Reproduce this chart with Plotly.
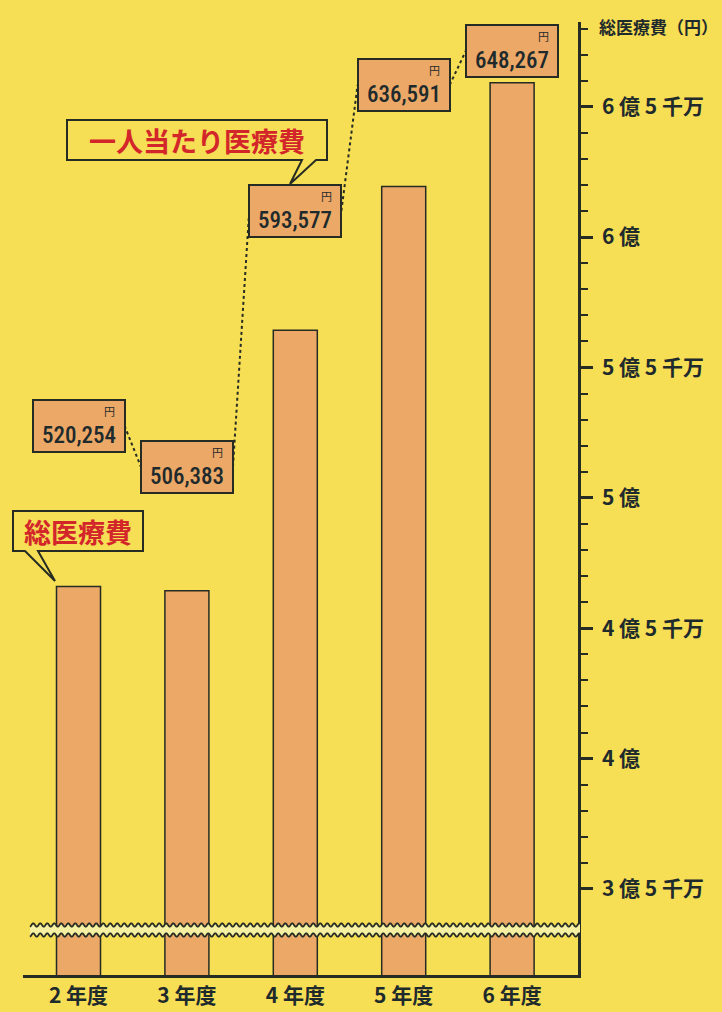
import numpy as np
import plotly.graph_objects as go

# data
years = ["2 年度", "3 年度", "4 年度", "5 年度", "6 年度"]
total_cost = [466_000_000, 464_400_000, 564_300_000, 619_400_000, 659_200_000]
per_capita = [520254, 506383, 593577, 636591, 648267]

major_vals = [350_000_000, 400_000_000, 450_000_000, 500_000_000,
              550_000_000, 600_000_000, 650_000_000]
major_text = ["3 億 5 千万", "4 億", "4 億 5 千万", "5 億",
              "5 億 5 千万", "6 億", "6 億 5 千万"]

BG = "#F6DE55"
BAR = "#EBA866"
BAND = "#F5F0A2"
INK = "#262C24"
RED = "#D3262B"
TXT = "#1E2A2C"
JP = "Noto Sans CJK JP"

W, H = 722, 1012
L, R, T, B = 23, 144, 22, 37
PW, PH = W - L - R, H - T - B


def paper(xp, yp):
    return (xp - L) / PW, (H - B - yp) / PH


def path_from(points, close=True):
    pts = [paper(x, y) for x, y in points]
    d = "M " + " L ".join(f"{x:.5f},{y:.5f}" for x, y in pts)
    return d + (" Z" if close else "")


idx = list(range(len(years)))
half_box = 0.425  # half width of value box in category units

fig = go.Figure()
fig.add_trace(go.Bar(
    x=idx, y=total_cost, width=0.406,
    marker=dict(color=BAR, line=dict(color=INK, width=1.5)),
    showlegend=False, hoverinfo="skip",
))

# dotted connectors between the per-capita boxes
cx, cy = [], []
for i in range(len(per_capita) - 1):
    cx += [i + half_box, i + 1 - half_box, None]
    cy += [per_capita[i], per_capita[i + 1], None]
fig.add_trace(go.Scatter(
    x=cx, y=cy, yaxis="y2", mode="lines",
    line=dict(color=INK, width=2, dash="dot"),
    showlegend=False, hoverinfo="skip",
))

annotations = []
for i, v in enumerate(per_capita):
    annotations.append(dict(
        x=i, y=v, xref="x", yref="y2",
        text=f"<span style=\"font-stretch:75%;font-weight:500\">{v:,}</span>",
        showarrow=False,
        font=dict(family="Roboto", size=23, color=TXT),
        bgcolor=BAR, bordercolor=INK, borderwidth=2, borderpad=2,
        width=86, height=46, valign="bottom", align="center",
    ))
    annotations.append(dict(
        x=i, y=v, xref="x", yref="y2", text="円", showarrow=False,
        font=dict(family=JP, size=11, color=TXT), xshift=31, yshift=15,
    ))

# speech bubbles
shapes = []
bubble1 = [(13, 511), (143, 511), (143, 551), (38, 551), (55, 581), (25, 551), (13, 551)]
bubble2 = [(67, 120), (327, 120), (327, 160), (316, 160), (290, 184), (302, 160), (67, 160)]
for poly in (bubble1, bubble2):
    shapes.append(dict(type="path", path=path_from(poly), xref="paper", yref="paper",
                       fillcolor=BG, line=dict(color=INK, width=2), layer="above"))
bx, by = paper(78, 531)
annotations.append(dict(x=bx, y=by, xref="paper", yref="paper", text="<b>総医療費</b>",
                        showarrow=False, xanchor="center", yanchor="middle",
                        font=dict(family=JP, size=27, color=RED)))
bx, by = paper(197, 140)
annotations.append(dict(x=bx, y=by, xref="paper", yref="paper", text="<b>一人当たり医療費</b>",
                        showarrow=False, xanchor="center", yanchor="middle",
                        font=dict(family=JP, size=27, color=RED)))

# axis break: pale band with two wavy lines
xs = np.arange(30, 580.5, 0.5)
top_wave = [(x, 925 + 1.7 * np.sin(2 * np.pi * x / 7)) for x in xs]
bot_wave = [(x, 935 + 1.7 * np.sin(2 * np.pi * x / 7)) for x in xs]
shapes.append(dict(type="path", path=path_from(top_wave + bot_wave[::-1]),
                   xref="paper", yref="paper", fillcolor=BAND,
                   line=dict(width=0), layer="above"))
for wave in (top_wave, bot_wave):
    shapes.append(dict(type="path", path=path_from(wave, close=False),
                       xref="paper", yref="paper",
                       line=dict(color=INK, width=1.8), layer="above"))

tx, ty = paper(597, 27)
annotations.append(dict(x=tx, y=ty, xref="paper", yref="paper", text="<b>総医療費（円）</b>",
                        showarrow=False, xanchor="left", yanchor="middle",
                        font=dict(family=JP, size=17, color=TXT)))

fig.update_layout(
    width=W, height=H,
    margin=dict(l=L, r=R, t=T, b=B),
    paper_bgcolor=BG, plot_bgcolor=BG,
    xaxis=dict(
        range=[-0.512, -0.512 + PW / 108.4],
        tickvals=idx, ticktext=years, ticks="",
        showline=True, linecolor=INK, linewidth=2.5,
        showgrid=False, zeroline=False, fixedrange=True,
        ticklabelstandoff=0, automargin=False,
        tickfont=dict(family=JP, size=21, color=TXT, weight="bold"),
    ),
    yaxis=dict(
        side="right", range=[317_000_000, 682_500_000],
        tickvals=major_vals, ticktext=major_text,
        ticks="outside", ticklen=12, tickwidth=2.5, tickcolor=INK,
        minor=dict(tickvals=list(np.arange(350_000_000, 690_000_000, 10_000_000)),
                   ticks="outside", ticklen=7, tickwidth=1.5, tickcolor=INK),
        showline=True, linecolor=INK, linewidth=2.5,
        showgrid=False, zeroline=False, ticklabelstandoff=5, automargin=False,
        tickfont=dict(family=JP, size=21, color=TXT, weight="bold"),
    ),
    yaxis2=dict(overlaying="y", range=[333_000, 658_000], visible=False),
    shapes=shapes,
    annotations=annotations,
)

fig.write_html("out.html", config={"displayModeBar": False},
               post_script="document.body.style.margin='0';")
